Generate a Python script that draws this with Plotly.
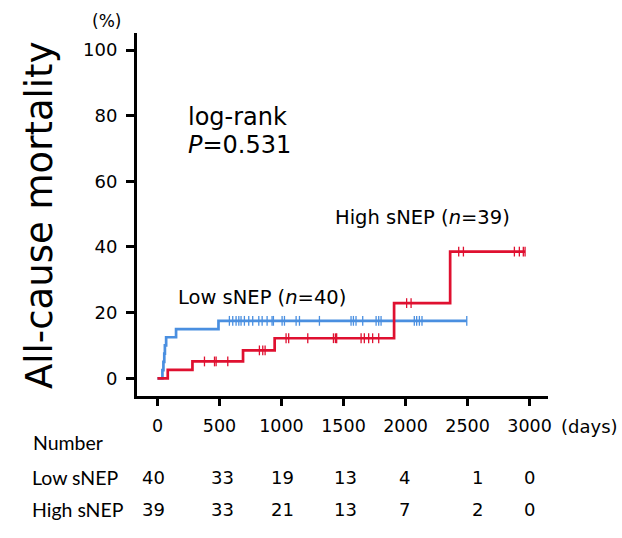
import numpy as np
import plotly.graph_objects as go

# ---- data ----
low_days = [0, 40, 48, 55, 60, 70, 150, 492, 2494]
low_pct = [0, 2.5, 5, 7.5, 10, 12.5, 15, 17.5, 17.5]
low_censor = [580, 607, 634, 656, 674, 701, 736, 768, 817, 844, 884, 924, 935,
              1005, 1024, 1118, 1145, 1306, 1561, 1580, 1601, 1655, 1763, 1784,
              1803, 2071, 2090, 2112, 2133, 2494]

high_days = [0, 83, 282, 690, 945, 1908, 2360, 2964]
high_pct = [0, 2.56, 5.13, 8.5, 12.2, 22.9, 38.6, 38.6]
high_censor = [379, 460, 473, 567, 822, 849, 868, 1037, 1058, 1212, 1419, 1435,
               1445, 1642, 1668, 1703, 1735, 1784, 2009, 2045, 2429, 2467, 2878,
               2918, 2950, 2964]

x_ticks = [0, 500, 1000, 1500, 2000, 2500, 3000]
y_ticks = [0, 20, 40, 60, 80, 100]
risk_low = [40, 33, 19, 13, 4, 1, 0]
risk_high = [39, 33, 21, 13, 7, 2, 0]
risk_shift = [-4, 3, 1, 2, -1, 10, 0]

BLUE = "#4A8FE0"
RED = "#DF1030"
FONT = "DejaVu Sans"


def step_at(days, pct, t):
    idx = np.searchsorted(np.array(days), np.array(t), side="right") - 1
    return [pct[i] for i in idx]


fig = go.Figure()
for days, pct, cens, col in [(low_days, low_pct, low_censor, BLUE),
                             (high_days, high_pct, high_censor, RED)]:
    fig.add_trace(go.Scatter(x=days, y=pct, mode="lines", line_shape="hv",
                             line=dict(color=col, width=2.7), showlegend=False,
                             hoverinfo="skip"))
    fig.add_trace(go.Scatter(x=cens, y=step_at(days, pct, cens), mode="markers",
                             marker=dict(symbol="line-ns", size=7,
                                         line=dict(color=col, width=1.3)),
                             showlegend=False, hoverinfo="skip"))

L, R, T, B = 137, 74, 33, 142
W, H = 622, 538
pw, ph = W - L - R, H - T - B


def px(x):
    return (x - L) / pw


def py(y):
    return (H - B - y) / ph


def txt(text, x, y, size, family=FONT, xanchor="center", angle=0):
    return dict(text=text, x=px(x), y=py(y), xref="paper", yref="paper",
                xanchor=xanchor, yanchor="middle", showarrow=False,
                textangle=angle,
                font=dict(family=family, size=size, color="black"))


ann = [
    txt("(%)", 106, 21, 17),
    txt("All-cause mortality", 40, 215, 37, angle=-90),
    txt("log-rank", 186, 117, 24, xanchor="left"),
    txt("<i>P</i>=0.531", 186, 145, 24, xanchor="left"),
    txt("High sNEP (<i>n</i>=39)", 333, 217, 19.5, xanchor="left"),
    txt("Low sNEP (<i>n</i>=40)", 176, 297, 19.5, xanchor="left"),
    txt("(days)", 559, 426, 18, xanchor="left"),
    txt("Number", 31, 442, 19.5, family="Lato", xanchor="left"),
    txt("Low sNEP", 30, 477, 19.5, family="Lato", xanchor="left"),
    txt("High sNEP", 30, 509, 19.5, family="Lato", xanchor="left"),
]
for d, a, b, s in zip(x_ticks, risk_low, risk_high, risk_shift):
    for v, yy in [(a, 477), (b, 509)]:
        ann.append(dict(text=str(v), x=d, y=py(yy), xref="x", yref="paper",
                        xanchor="center", yanchor="middle",
                        xshift=s, showarrow=False,
                        font=dict(family=FONT, size=18, color="black")))

fig.update_layout(
    width=W, height=H, margin=dict(l=L, r=R, t=T, b=B),
    paper_bgcolor="white", plot_bgcolor="white",
    annotations=ann,
    xaxis=dict(range=[-165, 3149], tickvals=x_ticks, showgrid=False,
               zeroline=False, showline=True, linecolor="black", linewidth=3,
               ticks="outside", ticklen=7, tickwidth=2.5, tickcolor="black",
               ticklabelstandoff=5,
               tickfont=dict(family=FONT, size=17.5, color="black")),
    yaxis=dict(range=[-5.4, 105.2], tickvals=y_ticks, showgrid=False,
               zeroline=False, showline=True, linecolor="black", linewidth=3,
               ticks="outside", ticklen=8, tickwidth=2.5, tickcolor="black",
               ticklabelstandoff=5,
               tickfont=dict(family=FONT, size=18, color="black")),
)

fig.write_html("out.html", config={"displayModeBar": False},
               post_script="document.body.style.margin='0';"
                           "document.body.style.overflow='hidden';")
